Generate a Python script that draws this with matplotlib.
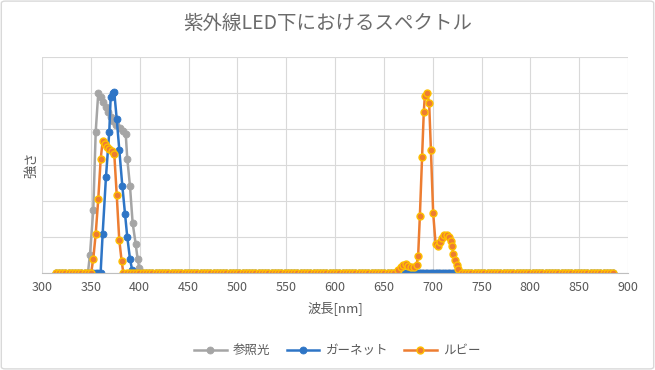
import numpy as np
import matplotlib.pyplot as plt
from matplotlib.patches import FancyBboxPatch

plt.rcParams['font.family'] = ['Noto Sans CJK JP', 'DejaVu Sans']

# shared baseline wavelengths (flat part of every spectrum)
base_nm = np.arange(314, 888, 3.3)

# 参照光 (reference light) - peak part
ref_nm = [349.1, 352.5, 355.0, 357.6, 360.4, 362.7, 365.5, 367.9, 370.6, 373.0,
          375.7, 379.8, 382.6, 385.7, 387.3, 390.1, 392.8, 395.9, 397.9, 399.6]
ref_val = [0.51, 1.74, 3.93, 5.00, 4.89, 4.74, 4.61, 4.46, 4.33, 4.21,
           4.12, 4.04, 3.95, 3.87, 3.18, 2.41, 1.39, 0.81, 0.39, 0.14]

# ガーネット (garnet) - peak part
gar_nm = [352.5, 355.0, 357.5, 360.0, 362.1, 365.5, 368.9, 370.3, 372.4, 374.0,
          376.5, 379.1, 382.2, 385.0, 387.3, 390.1, 392.4]
gar_val = [0.0, 0.0, 0.0, 0.0, 1.09, 2.67, 3.93, 4.88, 5.00, 5.02,
           4.28, 3.42, 2.43, 1.65, 1.00, 0.39, 0.07]

# ルビー (ruby) - two regions
rub_nm1 = [352.5, 355.0, 357.6, 360.1, 362.1, 364.5, 366.8, 368.9, 371.3, 374.0,
           376.5, 379.1, 381.6]
rub_val1 = [0.39, 1.09, 2.05, 3.17, 3.67, 3.59, 3.50, 3.44, 3.38, 3.31,
            2.17, 0.92, 0.32]
rub_nm2 = [664.7, 667.1, 669.8, 672.3, 674.9, 677.7, 680.7, 683.5, 685.1, 686.9,
           689.2, 690.9, 692.0, 694.3, 696.4, 698.2, 700.5, 703.0, 705.0, 707.4,
           709.7, 711.8, 714.3, 716.6, 718.3, 720.0, 721.0, 722.8, 724.5, 726.1]
rub_val2 = [0.07, 0.17, 0.23, 0.26, 0.20, 0.17, 0.17, 0.23, 0.46, 1.59,
            3.21, 4.47, 4.92, 5.00, 4.72, 3.42, 1.67, 0.81, 0.76, 0.85,
            0.97, 1.06, 1.06, 0.99, 0.88, 0.74, 0.54, 0.37, 0.23, 0.11]

# garnet also sits on the baseline under the ruby bump
gar_nm2 = list(np.arange(663, 728, 2.5))
gar_val2 = [0.0] * len(gar_nm2)


def build(parts):
    # glue the peak parts into the flat baseline
    xs, ys = [], []
    lo_edges = [p[0][0] for p in parts]
    hi_edges = [p[0][-1] for p in parts]
    for b in base_nm:
        if not any(lo - 1 < b < hi + 1 for lo, hi in zip(lo_edges, hi_edges)):
            xs.append(b)
            ys.append(0.0)
    for px, py in parts:
        xs += list(px)
        ys += list(py)
    order = np.argsort(xs)
    return np.array(xs)[order], np.array(ys)[order]


ref_x, ref_y = build([(ref_nm, ref_val)])
gar_x, gar_y = build([(gar_nm, gar_val), (gar_nm2, gar_val2)])
rub_x, rub_y = build([(rub_nm1, rub_val1), (rub_nm2, rub_val2)])

fig = plt.figure(figsize=(6.55, 3.7), dpi=100)
ax = fig.add_axes([42 / 655, 1 - 273 / 370, 586 / 655, 216 / 370])

ax.plot(ref_x, ref_y, color='#A5A5A5', lw=1.8, marker='o', ms=5,
        mfc='#A5A5A5', mec='#A5A5A5', mew=0.6, label='参照光')
ax.plot(gar_x, gar_y, color='#2E75C6', lw=1.8, marker='o', ms=5,
        mfc='#2E75C6', mec='#2E75C6', mew=0.6, label='ガーネット')
ax.plot(rub_x, rub_y, color='#ED7D31', lw=1.8, marker='o', ms=5,
        mfc='#ED7D31', mec='#FFC000', mew=1.0, label='ルビー')

ax.set_xlim(300, 900)
ax.set_ylim(0, 6)
ax.set_xticks(np.arange(300, 901, 50))
ax.set_yticks(np.arange(0, 7, 1))
ax.set_yticklabels([])
ax.grid(True, color='#D9D9D9', lw=0.8)
ax.set_axisbelow(True)
ax.tick_params(length=0, labelsize=9, colors='#595959', pad=6)
for s in ['top', 'right', 'left']:
    ax.spines[s].set_visible(False)
ax.spines['bottom'].set_color('#BFBFBF')

ax.set_xlabel('波長[nm]', fontsize=9.5, color='#595959', labelpad=5)
ax.set_ylabel('強さ', fontsize=9.5, color='#595959')
ax.yaxis.set_label_coords(-0.006, 0.5)
fig.suptitle('紫外線LED下におけるスペクトル', x=0.5, y=0.965, fontsize=14, color='#6b6b6b')

fig.legend(loc='lower center', bbox_to_anchor=(0.515, 0.005), ncol=3, frameon=False,
           fontsize=9, labelcolor='#595959', handlelength=2.6, handletextpad=0.5,
           columnspacing=1.3)

fig.patches.append(FancyBboxPatch((0.002, 0.003), 0.996, 0.994, boxstyle='round,pad=0,rounding_size=0.006',
                                  transform=fig.transFigure, fill=False, ec='#D9D9D9', lw=1))

fig.savefig('out.png', dpi=100)
